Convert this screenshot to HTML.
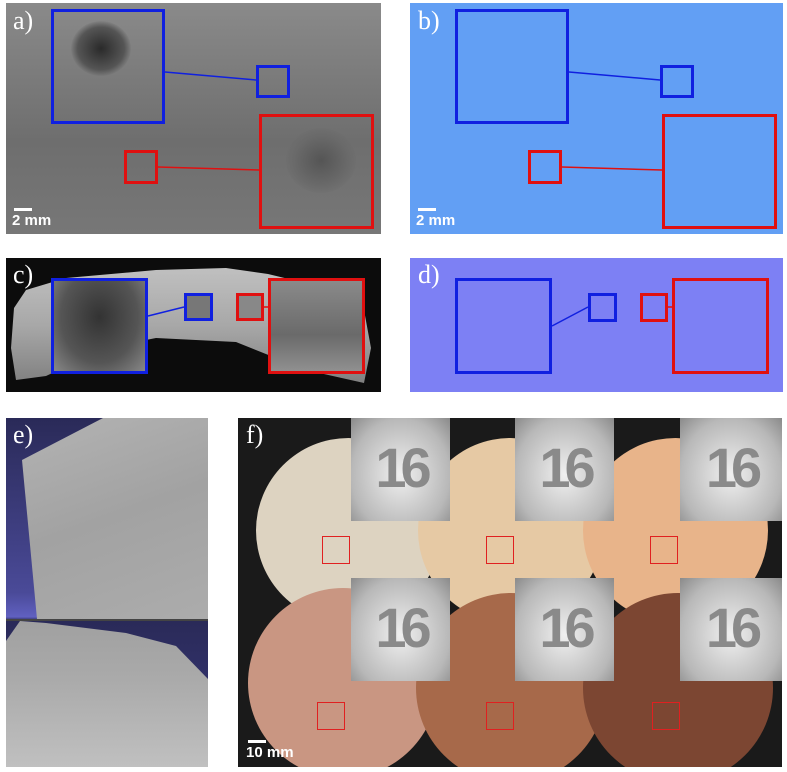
<!DOCTYPE html>
<html><head><meta charset="utf-8">
<style>
body{margin:0;width:787px;height:772px;background:#fff;position:relative;overflow:hidden;font-family:"Liberation Serif",serif}
.p{position:absolute;overflow:hidden}
.lbl{position:absolute;color:#fff;font-size:26px;font-family:"Liberation Serif",serif}
.box{position:absolute;box-sizing:border-box;border:3px solid}
.b{border-color:#1020e0}.r{border-color:#e01010}
.scale{position:absolute;color:#fff;font:bold 15px "Liberation Sans",sans-serif}
.scale::before{content:"";position:absolute;left:2px;top:-4px;width:18px;height:3px;background:#fff}
svg{position:absolute;left:0;top:0}
.coin{position:absolute;border-radius:50%}
.ins{position:absolute;background:radial-gradient(ellipse at 50% 55%,#f0f0f0,#b8b8b8 70%,#8a8a8a);color:#8a8a8a;font:bold 56px "Liberation Sans",sans-serif;text-align:center;line-height:100px;letter-spacing:-6px}
.sq{position:absolute;border:1px solid #e02020;width:28px;height:28px;box-sizing:border-box}
</style></head><body>

<div class="p" style="left:6px;top:3px;width:375px;height:231px;background:linear-gradient(180deg,#8a8a8a,#6e6e6e 60%,#777)">
  <div style="position:absolute;left:65px;top:18px;width:60px;height:55px;border-radius:50%;background:radial-gradient(#2a2a2a,#555 55%,transparent 72%)"></div>
  <div style="position:absolute;left:280px;top:125px;width:70px;height:65px;border-radius:50%;background:radial-gradient(#555,#6a6a6a 55%,transparent 75%)"></div>
</div>
<div class="lbl" style="left:13px;top:6px">a)</div>
<div class="box b" style="left:51px;top:9px;width:114px;height:115px"></div>
<div class="box b" style="left:256px;top:65px;width:34px;height:33px"></div>
<div class="box r" style="left:124px;top:150px;width:34px;height:34px"></div>
<div class="box r" style="left:259px;top:114px;width:115px;height:115px"></div>
<div class="scale" style="left:12px;top:212px">2 mm</div>

<div class="p" style="left:410px;top:3px;width:373px;height:231px;background:#629ff4"></div>
<div class="lbl" style="left:418px;top:6px">b)</div>
<div class="box b" style="left:455px;top:9px;width:114px;height:115px"></div>
<div class="box b" style="left:660px;top:65px;width:34px;height:33px"></div>
<div class="box r" style="left:528px;top:150px;width:34px;height:34px"></div>
<div class="box r" style="left:662px;top:114px;width:115px;height:115px"></div>
<div class="scale" style="left:416px;top:212px">2 mm</div>

<div class="p" style="left:6px;top:258px;width:375px;height:134px;background:#0c0c0c">
  <div style="position:absolute;left:0;top:0;width:375px;height:134px;background:linear-gradient(180deg,#c4c4c4,#a8a8a8 50%,#7a7a7a);clip-path:polygon(8px 50px,20px 32px,60px 20px,150px 12px,220px 10px,262px 16px,320px 30px,358px 52px,365px 90px,358px 125px,300px 112px,230px 84px,150px 80px,100px 90px,40px 118px,10px 122px,5px 90px)"></div>
</div>
<div class="lbl" style="left:13px;top:260px">c)</div>
<div class="box b" style="left:51px;top:278px;width:97px;height:96px;background:radial-gradient(ellipse at 50% 40%,#333,#555 60%,#888)"></div>
<div class="box b" style="left:184px;top:293px;width:29px;height:28px;background:#777"></div>
<div class="box r" style="left:236px;top:293px;width:28px;height:28px;background:#888"></div>
<div class="box r" style="left:268px;top:278px;width:97px;height:96px;background:linear-gradient(180deg,#8a8a8a,#6a6a6a 60%,#909090)"></div>

<div class="p" style="left:410px;top:258px;width:373px;height:134px;background:#7d80f4"></div>
<div class="lbl" style="left:418px;top:260px">d)</div>
<div class="box b" style="left:455px;top:278px;width:97px;height:96px"></div>
<div class="box b" style="left:588px;top:293px;width:29px;height:29px"></div>
<div class="box r" style="left:640px;top:293px;width:28px;height:29px"></div>
<div class="box r" style="left:672px;top:278px;width:97px;height:96px"></div>

<svg width="787" height="772">
  <line x1="165" y1="72" x2="256" y2="80" stroke="#1020e0" stroke-width="1.5"/>
  <line x1="158" y1="167" x2="259" y2="170" stroke="#e01010" stroke-width="1.5"/>
  <line x1="569" y1="72" x2="660" y2="80" stroke="#1020e0" stroke-width="1.5"/>
  <line x1="562" y1="167" x2="662" y2="170" stroke="#e01010" stroke-width="1.5"/>
  <line x1="148" y1="316" x2="184" y2="307" stroke="#1020e0" stroke-width="1.5"/>
  <line x1="264" y1="307" x2="268" y2="307" stroke="#e01010" stroke-width="1.5"/>
  <line x1="552" y1="326" x2="588" y2="307" stroke="#1020e0" stroke-width="1.5"/>
  <line x1="668" y1="307" x2="672" y2="307" stroke="#e01010" stroke-width="1.5"/>
</svg>

<div class="p" style="left:6px;top:418px;width:202px;height:349px;background:linear-gradient(180deg,#2a2a58,#4a4a98 50%,#6060c0 57%,#2a2a58 58%,#3a3a80)">
  <div style="position:absolute;left:0;top:0;width:202px;height:201px;background:linear-gradient(160deg,#b4b4b4,#a2a2a2 50%,#acacac);clip-path:polygon(16px 42px,97px 0,202px 0,202px 201px,31px 201px)"></div>
  <div style="position:absolute;left:0;top:201px;width:202px;height:2px;background:#444"></div>
  <div style="position:absolute;left:0;top:203px;width:202px;height:146px;background:linear-gradient(180deg,#a0a0a0,#aaaaaa 40%,#c0c0c0);clip-path:polygon(0 20px,14px 0,40px 2px,120px 12px,170px 25px,202px 58px,202px 146px,0 146px)"></div>
</div>
<div class="lbl" style="left:13px;top:420px">e)</div>

<div class="p" style="left:238px;top:418px;width:544px;height:349px;background:#1a1a1a">
  <div class="coin" style="left:18px;top:20px;width:185px;height:185px;background:#ddd3c1"></div>
  <div class="coin" style="left:180px;top:20px;width:185px;height:185px;background:#e6c9a4"></div>
  <div class="coin" style="left:345px;top:20px;width:185px;height:185px;background:#e8b48a"></div>
  <div class="coin" style="left:10px;top:170px;width:190px;height:190px;background:#c99682"></div>
  <div class="coin" style="left:178px;top:175px;width:190px;height:190px;background:#a7694a"></div>
  <div class="coin" style="left:345px;top:175px;width:190px;height:190px;background:#7c4632"></div>
</div>
<div class="lbl" style="left:246px;top:420px">f)</div>
<div class="ins" style="left:351px;top:418px;width:99px;height:103px">16</div>
<div class="ins" style="left:515px;top:418px;width:99px;height:103px">16</div>
<div class="ins" style="left:680px;top:418px;width:102px;height:103px">16</div>
<div class="ins" style="left:351px;top:578px;width:99px;height:103px">16</div>
<div class="ins" style="left:515px;top:578px;width:99px;height:103px">16</div>
<div class="ins" style="left:680px;top:578px;width:102px;height:103px">16</div>
<div class="sq" style="left:322px;top:536px"></div>
<div class="sq" style="left:486px;top:536px"></div>
<div class="sq" style="left:650px;top:536px"></div>
<div class="sq" style="left:317px;top:702px"></div>
<div class="sq" style="left:486px;top:702px"></div>
<div class="sq" style="left:652px;top:702px"></div>
<div class="scale" style="left:246px;top:744px">10 mm</div>
</body></html>
